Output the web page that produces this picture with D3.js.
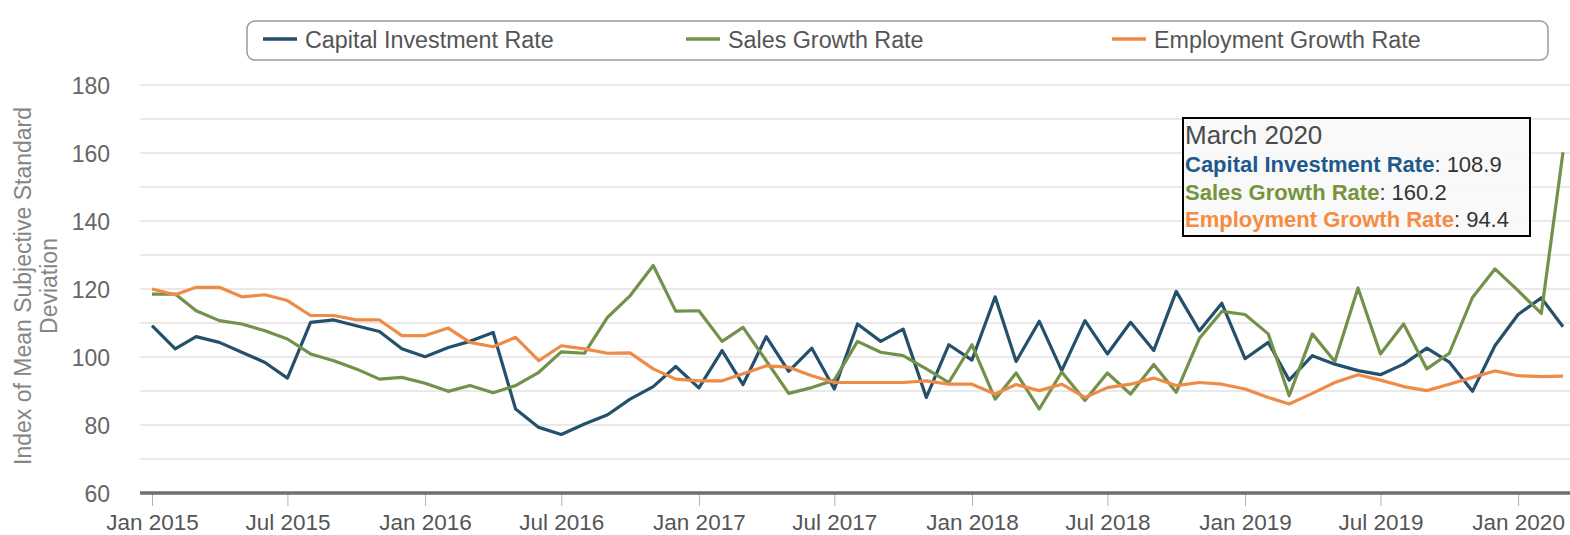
<!DOCTYPE html>
<html>
<head>
<meta charset="utf-8">
<script src="https://cdn.jsdelivr.net/npm/d3@7"></script>
<style>
  html, body { margin: 0; padding: 0; background: #fff; }
  svg { display: block; font-family: "Liberation Sans", Arial, sans-serif; }
</style>
</head>
<body>
<svg id="chart" width="1570" height="535"></svg>
<script>
// ---- data ----
const startMonth = "2015-01";
const seriesNames = ["Capital Investment Rate", "Sales Growth Rate", "Employment Growth Rate"];
const capital = [109.2,102.4,106,104.3,101.4,98.4,93.8,110.2,110.9,109.2,
  107.5,102.4,100.1,102.8,104.6,107.2,84.7,79.3,77.2,80.3,
  83.0,87.6,91.3,97.2,90.9,101.9,91.9,106,95.8,102.6,
  90.6,109.7,104.6,108.2,88.1,103.6,99.1,117.7,98.7,110.5,
  96,110.7,100.9,110.2,101.9,119.3,107.7,115.8,99.5,104.3,
  93.2,100.4,97.9,96,94.8,97.9,102.6,98.5,89.9,103.3,
  112.5,117.4,108.9];
const sales = [118.5,118.5,113.6,110.7,109.7,107.7,105.3,100.9,98.9,96.5,
  93.5,94,92.3,89.9,91.6,89.5,91.6,95.5,101.5,101.1,
  111.7,118,126.9,113.5,113.6,104.6,108.7,98.9,89.3,91,
  93.2,104.6,101.4,100.4,96.5,92.5,103.6,87.6,95.3,84.7,
  95.6,87.2,95.3,89.1,97.8,89.6,105.5,113.4,112.5,106.8,
  88.6,106.8,98.7,120.3,100.9,109.7,96.5,101.1,117.5,125.9,
  119.5,112.8,160.2];
const employment = [120,118.3,120.5,120.5,117.7,118.3,116.6,112.2,112.2,110.9,
  110.9,106.3,106.3,108.5,104.3,103,105.8,98.9,103.3,102.4,
  101.1,101.2,96.5,93.5,93,93,95.1,97.4,97,94.5,
  92.5,92.5,92.5,92.5,93,92,92,89.1,91.9,90.1,
  92,88.1,91,92,93.8,91.6,92.5,92,90.6,88.1,
  86.2,89.3,92.5,94.8,93.2,91.3,90.1,92,94,95.9,
  94.5,94.2,94.4];
const yTicks = [60, 80, 100, 120, 140, 160, 180];
const yTitle = ["Index of Mean Subjective Standard", "Deviation"];
const tooltipTitle = "March 2020";

// ---- styles ----
const lineColors = ["#24506b", "#72914a", "#ee8b47"];
const tipColors = ["#1f5a8a", "#77933c", "#f58c42"];

const svg = d3.select("#chart");
const parse = d3.timeParse("%Y-%m");
const t0 = parse(startMonth);
const dates = capital.map((_, i) => d3.timeMonth.offset(t0, i));

const x = d3.scaleTime().domain([dates[0], dates[dates.length - 1]]).range([152, 1563]);
const y = d3.scaleLinear().domain([60, 180]).range([493, 85]);

// gridlines every 10
const grid = svg.append("g");
grid.selectAll("line").data(d3.range(70, 181, 10)).join("line")
  .attr("x1", 140).attr("x2", 1570)
  .attr("y1", d => y(d)).attr("y2", d => y(d))
  .attr("stroke", "#e2e2e2").attr("stroke-width", 1.5);

// y labels
const yAxis = svg.append("g").attr("transform", "translate(140,0)")
  .call(d3.axisLeft(y).tickValues(yTicks).tickSize(0).tickPadding(30).tickFormat(d3.format("d")));
yAxis.select(".domain").remove();
yAxis.selectAll("text").attr("fill", "#666").style("font-size", "23px")
  .attr("dy", "0.35em");

// y title
const yt = svg.append("text").attr("transform", "translate(31,286) rotate(-90)")
  .attr("text-anchor", "middle").attr("fill", "#858585").style("font-size", "23px");
yt.selectAll("tspan").data(yTitle).join("tspan")
  .attr("x", 0).attr("dy", (d, i) => i === 0 ? 0 : 26).text(d => d);

// x axis
const xAxis = svg.append("g").attr("transform", `translate(0,${y(60)})`)
  .call(d3.axisBottom(x).ticks(d3.timeMonth.every(6)).tickFormat(d3.timeFormat("%b %Y")).tickSize(13).tickPadding(8));
xAxis.select(".domain").remove();
xAxis.selectAll(".tick line").attr("stroke", "#b0b0b0").attr("stroke-width", 1);
xAxis.selectAll("text").attr("fill", "#555").style("font-size", "22.5px");
svg.append("line").attr("x1", 140).attr("x2", 1570).attr("y1", y(60)).attr("y2", y(60))
  .attr("stroke", "#707070").attr("stroke-width", 3.5);

// lines
const allSeries = [capital, sales, employment];
const lineGen = d3.line().x((d, i) => x(dates[i])).y(d => y(d));
svg.append("g").selectAll("path").data(allSeries).join("path")
  .attr("d", d => lineGen(d))
  .attr("fill", "none")
  .attr("stroke", (d, i) => lineColors[i])
  .attr("stroke-width", 3.2)
  .attr("stroke-linejoin", "round");

// legend
const lg = svg.append("g");
lg.append("rect").attr("x", 247).attr("y", 21).attr("width", 1301).attr("height", 39)
  .attr("rx", 8).attr("fill", "#fff").attr("stroke", "#9a9a9a").attr("stroke-width", 1.5);
const legX = [263, 686, 1112];
seriesNames.forEach((name, i) => {
  lg.append("line").attr("x1", legX[i]).attr("x2", legX[i] + 34).attr("y1", 39).attr("y2", 39)
    .attr("stroke", lineColors[i]).attr("stroke-width", 3.5);
  lg.append("text").attr("x", legX[i] + 42).attr("y", 47.5).attr("fill", "#555")
    .style("font-size", "23.3px").text(name);
});

// tooltip
const last = capital.length - 1;
const tip = svg.append("g");
tip.append("rect").attr("x", 1183).attr("y", 118).attr("width", 347).attr("height", 118)
  .attr("fill", "#f9f9f9").attr("fill-opacity", 0.95).attr("stroke", "#000").attr("stroke-width", 2);
tip.append("text").attr("x", 1185).attr("y", 144).attr("fill", "#4a4a4a")
  .style("font-size", "26px").text(tooltipTitle);
const fmt = d3.format(".1f");
allSeries.forEach((s, i) => {
  const tx = tip.append("text").attr("x", 1185).attr("y", 172 + i * 27.5).style("font-size", "22px");
  tx.append("tspan").attr("fill", tipColors[i]).attr("font-weight", "bold").text(seriesNames[i]);
  tx.append("tspan").attr("fill", "#333").text(": " + fmt(s[last]));
});
</script>
</body>
</html>
